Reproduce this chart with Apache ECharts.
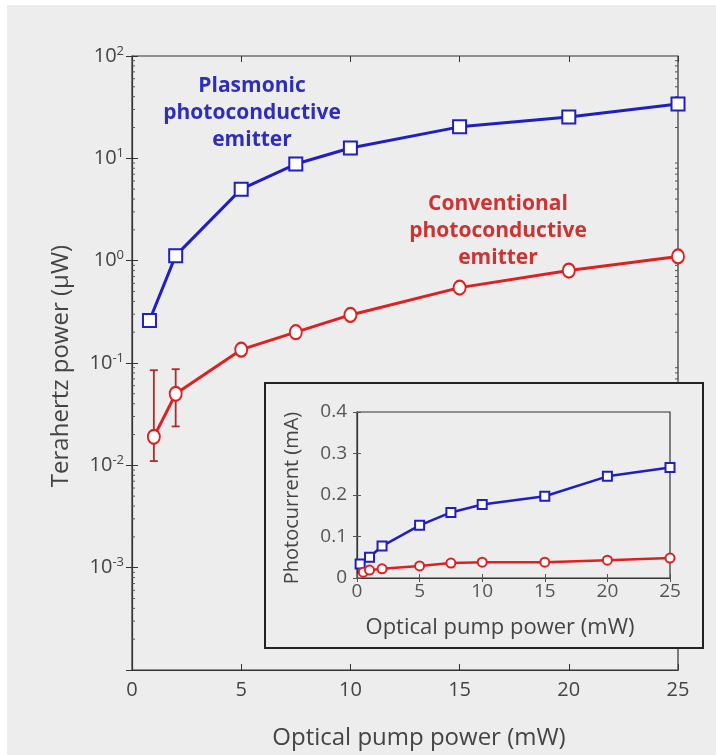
<!DOCTYPE html>
<html>
<head>
<meta charset="utf-8">
<title>Terahertz power</title>
<script type="text/javascript" src="https://cdn.jsdelivr.net/npm/echarts@6/dist/echarts.min.js"></script>
<style>
	body { margin: 0; background: #ffffff; }
	#main { position: absolute; left: 7px; top: 5px; width: 709px; height: 750px; }
</style>
</head>
<body>
<div id="main"></div>
<script type="text/javascript">
	// main plot: terahertz power (uW) vs optical pump power (mW)
	var plasmonicPump = [0.8, 2, 5, 7.5, 10, 15, 20, 25];
	var plasmonicThz = [0.26, 1.12, 5.0, 8.8, 12.6, 20.3, 25.4, 34];
	var conventionalPump = [1, 2, 5, 7.5, 10, 15, 20, 25];
	var conventionalThz = [0.019, 0.05, 0.135, 0.20, 0.295, 0.545, 0.80, 1.1];
	var errPump = [1, 2];
	var errLow = [0.011, 0.024];
	var errHigh = [0.085, 0.087];

	// inset: photocurrent (mA)
	var insetPlasmonicPump = [0.25, 1, 2, 5, 7.5, 10, 15, 20, 25];
	var insetPlasmonicCurrent = [0.034, 0.050, 0.077, 0.127, 0.158, 0.177, 0.197, 0.245, 0.266];
	var insetConventionalPump = [0.5, 1, 2, 5, 7.5, 10, 15, 20, 25];
	var insetConventionalCurrent = [0.014, 0.019, 0.022, 0.029, 0.036, 0.038, 0.038, 0.043, 0.048];

	var BLUE = '#1f1fc4';
	var RED = '#df2020';
	var FONT = 'Open Sans';
	var GREY = '#444';

	function zip(a, b) {
		var out = [];
		for (var i = 0; i < a.length; i++) out.push([a[i], b[i]]);
		return out;
	}

	var errData = [];
	for (var i = 0; i < errPump.length; i++) errData.push([errPump[i], errLow[i], errHigh[i]]);

	// log minor ticks (2..9 in every decade), placed with the axis scale
	var minorData = [];
	for (var e = -4; e < 2; e++) {
		for (var m = 2; m <= 9; m++) minorData.push(m * Math.pow(10, e));
	}

	function supLabel(v) {
		var p = Math.round(Math.log10(v));
		return '10{s|' + p + '}';
	}

	var myChart = echarts.init(document.getElementById('main'));
	var option = {
		backgroundColor: '#ededed',
		animation: false,
		grid: [
			{ left: 125, top: 51, right: 38, bottom: 85, show: true, borderColor: '#333', borderWidth: 1.2, backgroundColor: 'transparent' },
			{ left: 350, top: 407, right: 46, bottom: 177, show: true, borderColor: '#333', borderWidth: 1.2, backgroundColor: 'transparent', z: 60 }
		],
		xAxis: [
			{
				gridIndex: 0, type: 'value', min: 0, max: 25, interval: 5,
				axisLine: { lineStyle: { color: '#333', width: 1.2 } },
				axisTick: { inside: true, length: 6, lineStyle: { color: '#333' } },
				axisLabel: { margin: 10, fontFamily: FONT, fontSize: 20, color: GREY },
				splitLine: { show: false }
			},
			{
				gridIndex: 0, type: 'value', min: 0, max: 25, interval: 5, position: 'top',
				axisLine: { show: false },
				axisTick: { inside: true, length: 6, lineStyle: { color: '#333' } },
				axisLabel: { show: false },
				splitLine: { show: false }
			},
			{
				gridIndex: 1, type: 'value', min: 0, max: 25, interval: 5, z: 60,
				axisLine: { lineStyle: { color: '#333', width: 1.2 } },
				axisTick: { inside: true, length: 4, lineStyle: { color: '#555' } },
				axisLabel: { margin: 4, fontFamily: FONT, fontSize: 19, color: '#555' },
				splitLine: { show: false }
			},
			{
				gridIndex: 1, type: 'value', min: 0, max: 25, interval: 5, position: 'top', z: 60,
				axisLine: { show: false },
				axisTick: { inside: true, length: 4, lineStyle: { color: '#555' } },
				axisLabel: { show: false },
				splitLine: { show: false }
			}
		],
		yAxis: [
			{
				gridIndex: 0, type: 'log', logBase: 10, min: 1e-4, max: 1e2,
				axisLine: { lineStyle: { color: '#333', width: 1.2 } },
				axisTick: { inside: true, length: 6, lineStyle: { color: '#333' } },
				axisLabel: {
					showMinLabel: false, margin: 8, formatter: supLabel,
					fontFamily: FONT, fontSize: 20, color: GREY,
					rich: { s: { fontFamily: FONT, fontSize: 13, color: GREY, verticalAlign: 'top', padding: [0, 0, 10, 0] } }
				},
				splitLine: { show: false }
			},
			{
				gridIndex: 0, type: 'log', logBase: 10, min: 1e-4, max: 1e2, position: 'right',
				axisLine: { show: false },
				axisTick: { inside: true, length: 6, lineStyle: { color: '#333' } },
				axisLabel: { show: false },
				splitLine: { show: false }
			},
			{
				gridIndex: 1, type: 'value', min: 0, max: 0.4, interval: 0.1, z: 60,
				axisLine: { lineStyle: { color: '#333', width: 1.2 } },
				axisTick: { inside: true, length: 4, lineStyle: { color: '#555' } },
				axisLabel: { margin: 10, fontFamily: FONT, fontSize: 19, color: '#555',
					formatter: function (v) { return v === 0 ? '0' : v.toFixed(1); } },
				splitLine: { show: false }
			},
			{
				gridIndex: 1, type: 'value', min: 0, max: 0.4, interval: 0.1, position: 'right', z: 60,
				axisLine: { show: false },
				axisTick: { inside: true, length: 4, lineStyle: { color: '#555' } },
				axisLabel: { show: false },
				splitLine: { show: false }
			}
		],
		graphic: [
			{ type: 'text', z: 10, x: 412, y: 733,
			  style: { text: 'Optical pump power (mW)', fontFamily: FONT, fontSize: 24, fill: GREY, align: 'center', verticalAlign: 'middle' } },
			{ type: 'text', z: 10, x: 54, y: 361, rotation: Math.PI / 2,
			  style: { text: 'Terahertz power (\u03bcW)', fontFamily: FONT, fontSize: 24, fill: GREY, align: 'center', verticalAlign: 'middle' } },
			{ type: 'rect', z: 50, shape: { x: 258, y: 378, width: 438, height: 265 },
			  style: { fill: '#ededed', stroke: '#222', lineWidth: 2 } },
			{ type: 'text', z: 60, x: 493, y: 623,
			  style: { text: 'Optical pump power (mW)', fontFamily: FONT, fontSize: 22, fill: GREY, align: 'center', verticalAlign: 'middle' } },
			{ type: 'text', z: 60, x: 285, y: 493, rotation: Math.PI / 2,
			  style: { text: 'Photocurrent (mA)', fontFamily: FONT, fontSize: 20, fill: GREY, align: 'center', verticalAlign: 'middle' } },
			{ type: 'text', z: 10, x: 245, y: 108,
			  style: { text: 'Plasmonic\nphotoconductive\nemitter', fontFamily: FONT, fontWeight: 'bold', fontSize: 21, lineHeight: 27,
			           fill: '#2e2eb8', align: 'center', verticalAlign: 'middle' } },
			{ type: 'text', z: 10, x: 491, y: 226,
			  style: { text: 'Conventional\nphotoconductive\nemitter', fontFamily: FONT, fontWeight: 'bold', fontSize: 21, lineHeight: 27,
			           fill: '#cc3333', align: 'center', verticalAlign: 'middle' } }
		],
		series: [
			{
				type: 'line', xAxisIndex: 0, yAxisIndex: 0, data: zip(plasmonicPump, plasmonicThz),
				symbol: 'emptyRect', symbolSize: 13, color: BLUE,
				lineStyle: { color: BLUE, width: 3 }, itemStyle: { color: BLUE, borderWidth: 2.5 }
			},
			{
				type: 'line', xAxisIndex: 0, yAxisIndex: 0, data: zip(conventionalPump, conventionalThz),
				symbol: 'emptyCircle', symbolSize: [12, 14], color: RED,
				lineStyle: { color: RED, width: 3 }, itemStyle: { color: RED, borderWidth: 2.5 }
			},
			{
				type: 'custom', xAxisIndex: 0, yAxisIndex: 0, data: errData, z: 3,
				renderItem: function (params, api) {
					var lo = api.coord([api.value(0), api.value(1)]);
					var hi = api.coord([api.value(0), api.value(2)]);
					var w = 4;
					var st = { stroke: '#b02a2a', lineWidth: 1.8 };
					return { type: 'group', children: [
						{ type: 'line', shape: { x1: lo[0], y1: lo[1], x2: hi[0], y2: hi[1] }, style: st },
						{ type: 'line', shape: { x1: lo[0] - w, y1: lo[1], x2: lo[0] + w, y2: lo[1] }, style: st },
						{ type: 'line', shape: { x1: hi[0] - w, y1: hi[1], x2: hi[0] + w, y2: hi[1] }, style: st }
					] };
				}
			},
			{
				// minor log ticks on left and right of the main plot
				type: 'custom', xAxisIndex: 0, yAxisIndex: 0, data: minorData, silent: true, clip: false,
				renderItem: function (params, api) {
					var p = api.coord([0, api.value(0)]);
					var q = api.coord([25, api.value(0)]);
					var st = { stroke: '#555', lineWidth: 1 };
					return { type: 'group', children: [
						{ type: 'line', shape: { x1: p[0], y1: p[1], x2: p[0] + 3, y2: p[1] }, style: st },
						{ type: 'line', shape: { x1: q[0] - 3, y1: q[1], x2: q[0], y2: q[1] }, style: st }
					] };
				}
			},
			{
				type: 'line', xAxisIndex: 2, yAxisIndex: 2, z: 62, data: zip(insetPlasmonicPump, insetPlasmonicCurrent),
				symbol: 'emptyRect', symbolSize: 9, color: BLUE,
				lineStyle: { color: BLUE, width: 2.5 }, itemStyle: { color: BLUE, borderWidth: 2 }
			},
			{
				type: 'line', xAxisIndex: 2, yAxisIndex: 2, z: 62, data: zip(insetConventionalPump, insetConventionalCurrent),
				symbol: 'emptyCircle', symbolSize: 9, color: RED,
				lineStyle: { color: RED, width: 2.5 }, itemStyle: { color: RED, borderWidth: 2 }
			}
		]
	};
	myChart.setOption(option);
</script>
</body>
</html>
